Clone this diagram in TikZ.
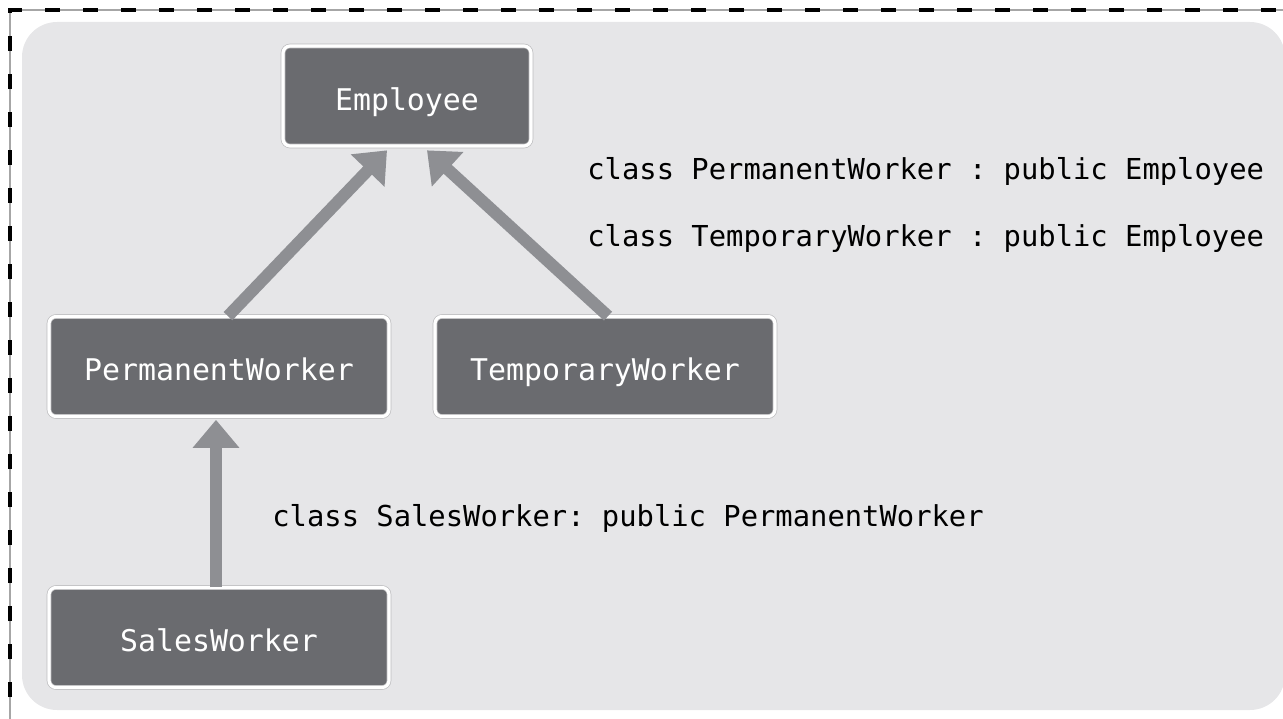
\documentclass[tikz,border=0pt]{standalone}
\usepackage{fontspec}
\setmonofont{DejaVu Sans Mono}
\usepackage{xcolor}
\usepackage{tikz}
\usetikzlibrary{calc, arrows.meta, positioning}

\definecolor{panelgray}{HTML}{E6E6E8}
\definecolor{boxgray}{HTML}{6A6B6F}
\definecolor{arrowgray}{HTML}{8E8F93}
\definecolor{rimgray}{HTML}{BDBDBF}

\begin{document}
\begin{tikzpicture}[auto, >=latex, node distance = 1 cm]
		\tikzstyle{klass} = [draw=rimgray, double=white, double distance=1.8pt, line width=0.4pt, fill=boxgray, rounded corners=4pt, text=white, font=\ttfamily\fontsize{17}{20}\selectfont, text height=16pt, text depth=0pt, minimum height=2cm]
		\tikzstyle{decl} = [draw=none, anchor=west, inner sep=0pt, font=\ttfamily\fontsize{16.4}{20}\selectfont]
		\tikzstyle{arrow} = [line width=0.24cm, draw=arrowgray, -{Triangle[width=0.9cm, length=0.56cm, fill=arrowgray]}]
		
		\clip (0, 0) rectangle (25.66, -14.38);
		
		% dashed frame
		\draw[gray!70, line width=1pt] (0.2, -14.6) -- (0.2, -0.2) -- (26, -0.2);
		\draw[black, line width=2.2pt, dash pattern=on 0.3cm off 0.46cm, dash phase=0.1cm] (0.2, -14.6) -- (0.2, -0.2) -- (26, -0.2);
		
		% panel
		\fill[panelgray, rounded corners=0.7cm] (0.44, -0.44) rectangle (25.7, -14.2);
		
		\node[klass, minimum width=4.96cm]	at (8.14, -1.92)	(emp)	{Employee};
		\node[klass, minimum width=6.8cm]	at (4.38, -7.33)	(pw)	{PermanentWorker};
		\node[klass, minimum width=6.8cm]	at (12.1, -7.33)	(tw)	{TemporaryWorker};
		\node[klass, minimum width=6.8cm]	at (4.38, -12.75)	(sw)	{SalesWorker};
		
		\node[decl] at (11.74, -3.42)	(dpw)	{class PermanentWorker : public Employee};
		\node[decl] at (11.74, -4.76)	(dtw)	{class TemporaryWorker : public Employee};
		\node[decl] at (5.44, -10.36)	(dsw)	{class SalesWorker: public PermanentWorker};
		
		\draw[arrow] ([xshift=0.18cm]pw.north) -- ([xshift=-0.4cm, yshift=-0.08cm]emp.south);
		\draw[arrow] ([xshift=0.06cm]tw.north) -- ([xshift=0.4cm, yshift=-0.08cm]emp.south);
		\draw[arrow] ([xshift=-0.06cm]sw.north) -- ([xshift=-0.06cm, yshift=-0.06cm]pw.south);
	\end{tikzpicture}
\end{document}
